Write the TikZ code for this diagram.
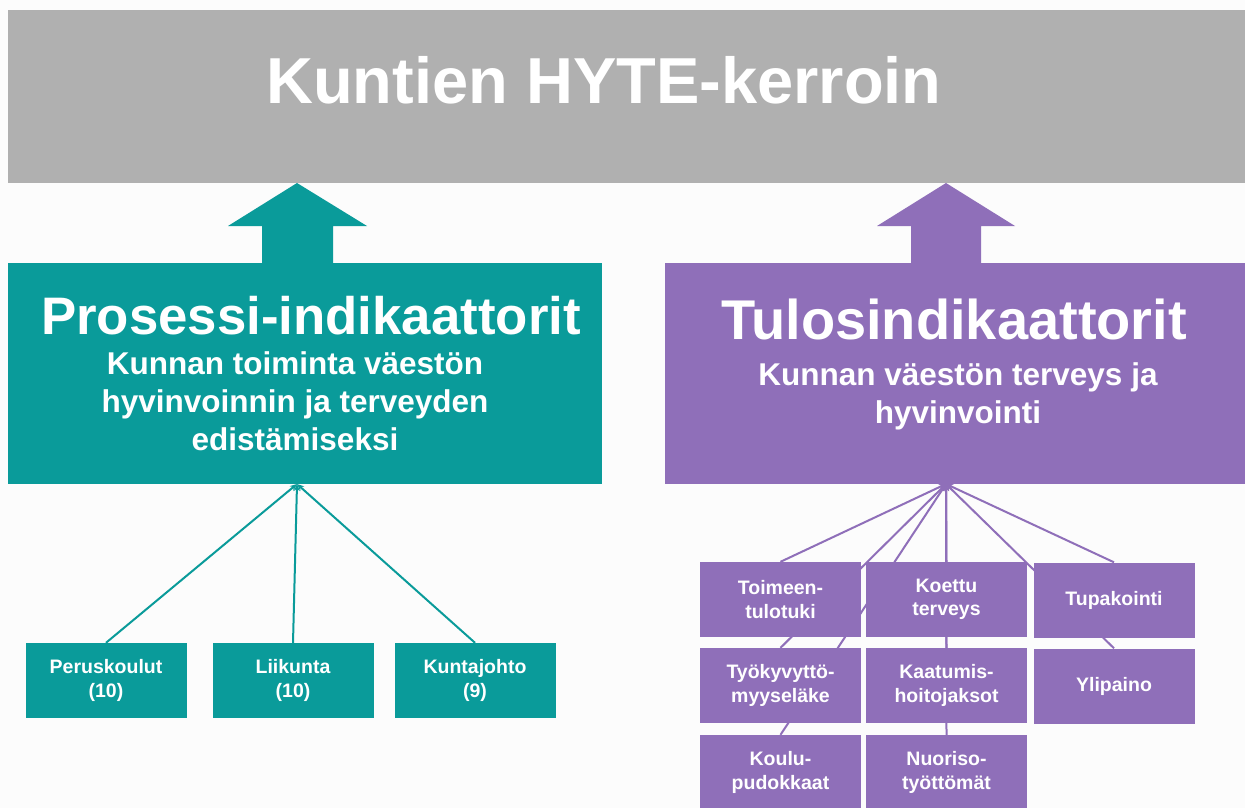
\documentclass[tikz,border=0pt]{standalone}
\usepackage{fontspec}
\setmainfont{Liberation Sans}
\usepackage{xcolor}
\usepackage{tikz}
\usetikzlibrary{arrows.meta,backgrounds}
\definecolor{bannergray}{RGB}{176,176,176}
\definecolor{processteal}{RGB}{10,155,154}
\definecolor{resultpurple}{RGB}{143,111,185}
\definecolor{pagewhite}{RGB}{252,252,252}
\pgfdeclarelayer{links}
\pgfsetlayers{background,links,main}

\begin{document}
\begin{tikzpicture}[x=1pt, y=-1pt, >={Stealth[length=7pt, width=6pt]}]
    % Define styles
    \tikzstyle{banner} = [rectangle, minimum width=1237pt, minimum height=173pt, inner sep=0pt, fill=bannergray]
    \tikzstyle{group} = [rectangle, minimum height=221pt, inner sep=0pt]
    \tikzstyle{item} = [rectangle, minimum width=161pt, minimum height=75pt, inner sep=2pt, text centered, align=center, text=white, font=\bfseries\fontsize{19.5}{23.5}\selectfont]
    \tikzstyle{heading} = [text=white, inner sep=0pt, font=\bfseries\fontsize{54}{60}\selectfont]
    \tikzstyle{subheading} = [text=white, align=center, inner sep=0pt, font=\bfseries\fontsize{31.5}{38}\selectfont]
    \tikzstyle{link} = [->, line width=2pt]

    % Page
    \useasboundingbox (0,0) rectangle (1245,808);
    \clip (0,0) rectangle (1245,808);
    \begin{pgfonlayer}{background}
        \fill [pagewhite] (0,0) rectangle (1245,808);
    \end{pgfonlayer}

    % Banner
    \node [banner] (hyte) at (626.5,96.5) {};
    \node [heading, font=\bfseries\fontsize{65}{72}\selectfont] (hyte_title) at (604,80) {Kuntien HYTE-kerroin};

    % Big arrows up to the banner
    \fill [processteal] (262,266) -- (262,226) -- (228,226) -- (297,183) -- (367,226) -- (333,226) -- (333,266) -- cycle;
    \fill [resultpurple] (911,266) -- (911,226) -- (877,226) -- (946,183) -- (1015,226) -- (981,226) -- (981,266) -- cycle;

    % Process indicators
    \node [group, minimum width=594pt, fill=processteal] (process) at (305,373.5) {};
    \node [heading, font=\bfseries\fontsize{52.8}{60}\selectfont] (process_title) at (311,316) {Prosessi-indikaattorit};
    \node [subheading] (process_text) at (295,401) {Kunnan toiminta väestön\\hyvinvoinnin ja terveyden\\edistämiseksi};
    \coordinate (process_hub) at (297,484);

    \node [item, fill=processteal] (peruskoulut) at (106,680.5) {Peruskoulut\\(10)};
    \node [item, fill=processteal] (liikunta) at (293,680.5) {Liikunta\\(10)};
    \node [item, fill=processteal] (kuntajohto) at (475,680.5) {Kuntajohto\\(9)};

    % Result indicators
    \node [group, minimum width=580pt, fill=resultpurple] (result) at (955,373.5) {};
    \node [heading, font=\bfseries\fontsize{56}{60}\selectfont] (result_title) at (954,319) {Tulosindikaattorit};
    \node [subheading] (result_text) at (958,396) {Kunnan väestön terveys ja\\hyvinvointi};
    \coordinate (result_hub) at (946,484);

    \node [item, fill=resultpurple] (toimeentulotuki) at (780.5,599.5) {Toimeen-\\tulotuki};
    \node [item, fill=resultpurple] (koettu_terveys) at (946.5,599.5) {Koettu\\terveys};
    \node [item, fill=resultpurple] (tupakointi) at (1114,600) {Tupakointi};
    \node [item, fill=resultpurple] (tyokyvyttomyys) at (780.5,685.5) {Työkyvyttö-\\myyseläke};
    \node [item, fill=resultpurple] (kaatumiset) at (946.5,685.5) {Kaatumis-\\hoitojaksot};
    \node [item, fill=resultpurple] (ylipaino) at (1114,686) {Ylipaino};
    \node [item, fill=resultpurple] (koulupudokkaat) at (780.5,772.5) {Koulu-\\pudokkaat};
    \node [item, fill=resultpurple] (nuorisotyottomat) at (946.5,772.5) {Nuoriso-\\työttömät};

    % Arrows to the hubs
    \begin{pgfonlayer}{links}
        \draw [link, processteal] (peruskoulut.north) -- (process_hub);
        \draw [link, processteal] (liikunta.north) -- (process_hub);
        \draw [link, processteal] (kuntajohto.north) -- (process_hub);

        \draw [link, resultpurple] (toimeentulotuki.north) -- (result_hub);
        \draw [link, resultpurple] (koettu_terveys.north) -- (result_hub);
        \draw [link, resultpurple] (tupakointi.north) -- (result_hub);
        \draw [link, resultpurple] (tyokyvyttomyys.north) -- (result_hub);
        \draw [link, resultpurple] (kaatumiset.north) -- (result_hub);
        \draw [link, resultpurple] (ylipaino.north) -- (result_hub);
        \draw [link, resultpurple] (koulupudokkaat.north) -- (result_hub);
        \draw [link, resultpurple] (nuorisotyottomat.north) -- (result_hub);
    \end{pgfonlayer}
\end{tikzpicture}
\end{document}
